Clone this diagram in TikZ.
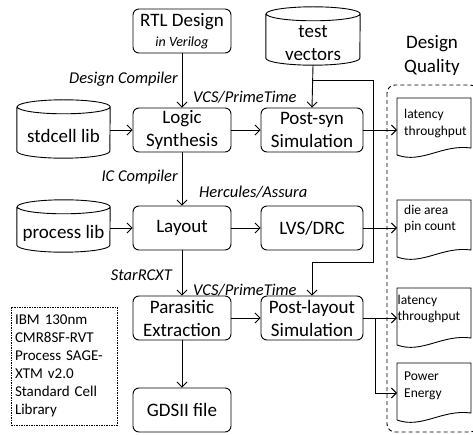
\documentclass[tikz,border=0pt]{standalone}
\usepackage{fontspec}
\setmainfont{Carlito}
\usetikzlibrary{arrows.meta,calc}
\tikzset{
  box/.style={draw, line width=0.9pt, rounded corners=6pt, minimum height=44pt, inner sep=1pt, align=center, font=\fontsize{19}{23}\selectfont},
  nbox/.style={box, minimum width=98pt},
  wbox/.style={box, minimum width=102pt},
  cylbody/.style={inner sep=0pt, align=center, font=\fontsize{19}{23}\selectfont},
  lbl/.style={inner sep=0pt, font=\fontsize{16.5}{19}\selectfont\itshape},
  doctext/.style={inner sep=0pt, align=left, font=\fontsize{13.5}{16.5}\selectfont},
  arr/.style={line width=0.9pt, -{Straight Barb[length=5pt,width=10pt]}},
  ln/.style={line width=0.9pt},
}
\newcommand\drawcyl[2]{%
  \draw[ln] ([yshift=7pt]#1.north west) -- ([yshift=7pt]#1.south west)
    arc[start angle=180,end angle=360,x radius=#2pt,y radius=7pt]
    -- ([yshift=7pt]#1.north east)
    arc[start angle=0,end angle=360,x radius=#2pt,y radius=7pt];}
\newcommand\drawdoc[1]{%
  \draw[ln,shift={(#1)}] (0,0) -- (0,-57) .. controls (25,-66) and (45,-46) .. (74,-50) -- (74,0) -- cycle;}
\begin{document}
\begin{tikzpicture}[x=1pt,y=1pt]
\useasboundingbox (0,0) rectangle (473,-435);

% main boxes
\node[nbox] (rtl) at (182,-31) {RTL Design\\[-3pt]{\fontsize{14}{16}\selectfont\itshape in Verilog}};
\node[nbox] (logic) at (182,-130) {Logic\\Synthesis};
\node[wbox] (psyn) at (312,-130) {Post-syn\\Simulation};
\node[nbox] (layout) at (182,-228) {Layout};
\node[wbox] (lvs) at (312,-228) {LVS/DRC};
\node[nbox] (para) at (182,-318) {Parasitic\\Extraction};
\node[wbox] (play) at (312,-318) {Post-layout\\Simulation};
\node[nbox] (gds) at (182,-410) {GDSII file};

% cylinders
\node[cylbody, minimum width=93pt, minimum height=44pt] (std) at (63.5,-136) {stdcell lib};
\drawcyl{std}{46.5}
\node[cylbody, minimum width=93pt, minimum height=38pt] (proc) at (63.5,-233) {process lib};
\drawcyl{proc}{46.5}
\node[cylbody, minimum width=94pt, minimum height=44pt] (tv) at (313,-43) {test\\vectors};
\drawcyl{tv}{47}

% documents
\coordinate (d1) at (397,-98);
\coordinate (d2) at (397,-200);
\coordinate (d3) at (397,-288);
\coordinate (d4) at (397,-363);
\drawdoc{d1}\drawdoc{d2}\drawdoc{d3}\drawdoc{d4}
\node[doctext, anchor=west] (t1) at (404,-123.5) {latency\\throughput};
\node[doctext, anchor=west] (t2) at (404,-219) {die area\\pin count};
\node[doctext, anchor=west] (t3) at (397.5,-309) {latency\\throughput};
\node[doctext, anchor=west] (t4) at (404,-386) {Power\\Energy};

% design quality
\node[align=center, inner sep=0pt, font=\fontsize{19}{24}\selectfont] (dq) at (432,-55) {Design\\Quality};
\draw[ln, dash pattern=on 4pt off 3pt, rounded corners=8pt] (387,-85) rectangle (478,-432);

% IBM note
\node[draw, line width=0.6pt, dash pattern=on 1.5pt off 1pt, minimum width=106pt, minimum height=118pt, inner sep=0pt, text width=98pt, align=left, font=\fontsize{15}{18}\selectfont] (ibm) at (64,-366) {IBM 130nm\\CMR8SF-RVT\\Process SAGE-\\XTM v2.0\\Standard Cell\\Library};

% vertical flow
\draw[arr] (rtl) -- (logic);
\draw[arr] (logic) -- (layout);
\draw[arr] (layout) -- (para);
\draw[arr] (para) -- (gds);

% horizontal
\draw[arr] (logic.west -| std.east) -- (logic.west);
\draw[arr] (layout.west -| proc.east) -- (layout.west);
\draw[arr] (logic) -- (psyn);
\draw[arr] (layout) -- (lvs);
\draw[arr] (para) -- (play);

% test vectors
\coordinate (j1) at (312,-80);
\coordinate (j2) at (373,-80);
\coordinate (j3) at (373,-262);
\coordinate (j4) at (312,-262);
\draw[arr] (tv.south) ++(0,0) -- (psyn.north);
\draw[arr] (j1) -- (j2) -- (j3) -- (j4) -- (play.north);

% outputs
\draw[arr] (psyn.east) -- (psyn.east -| d1);
\draw[arr] (lvs.east) -- (lvs.east -| d2);
\draw[arr] (play.east) -- (play.east -| d3);
\coordinate (j5) at (375,-318);
\coordinate (j6) at (375,-393);
\draw[arr] (j5) -- (j6) -- (j6 -| d4);

% labels
\node[lbl, anchor=east] (l1) at (178,-79) {Design Compiler};
\node[lbl, anchor=east] (l2) at (178,-177) {IC Compiler};
\node[lbl, anchor=east] (l3) at (172,-275) {StarRCXT};
\node[lbl, anchor=west] (l4) at (193,-97) {VCS/PrimeTime};
\node[lbl, anchor=west] (l5) at (193,-290) {VCS/PrimeTime};
\node[lbl, anchor=west] (l6) at (199,-192) {Hercules/Assura};
\end{tikzpicture}
\end{document}
